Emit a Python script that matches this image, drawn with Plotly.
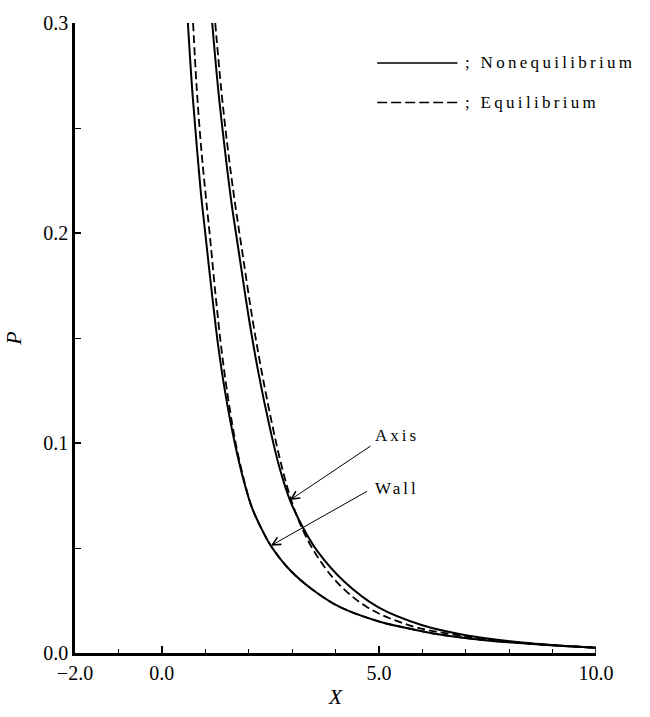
import plotly.graph_objects as go

# Data
wall_noneq_x = [0.60, 0.70, 0.81, 0.90, 1.00, 1.16, 1.30, 1.46, 1.68, 1.90, 2.08, 2.30, 2.51, 2.95, 3.45, 4.11, 5.00, 5.50, 6.40, 7.50, 8.70, 10.0]
wall_noneq_p = [0.300, 0.268, 0.240, 0.219, 0.200, 0.170, 0.146, 0.124, 0.100, 0.0810, 0.0690, 0.0590, 0.0511, 0.0395, 0.0305, 0.0218, 0.0150, 0.0125, 0.0088, 0.0060, 0.0041, 0.0025]

wall_eq_x = [0.72, 0.80, 0.90, 1.00, 1.10, 1.24, 1.36, 1.50, 1.70, 1.91, 2.08, 2.30, 2.51, 2.95, 3.45, 4.11, 5.00, 5.50, 6.40, 7.50, 8.70, 10.0]
wall_eq_p = [0.300, 0.270, 0.242, 0.220, 0.200, 0.170, 0.147, 0.125, 0.100, 0.0810, 0.0690, 0.0590, 0.0511, 0.0395, 0.0305, 0.0218, 0.0150, 0.0125, 0.0088, 0.0060, 0.0041, 0.0025]

axis_noneq_x = [1.16, 1.30, 1.45, 1.60, 1.78, 2.00, 2.22, 2.48, 2.70, 2.95, 3.25, 3.60, 4.20, 4.98, 6.00, 7.00, 8.30, 10.0]
axis_noneq_p = [0.300, 0.268, 0.240, 0.215, 0.190, 0.160, 0.134, 0.108, 0.0890, 0.0728, 0.0598, 0.0480, 0.0340, 0.0218, 0.0132, 0.0085, 0.0050, 0.0025]

axis_eq_x = [1.23, 1.37, 1.52, 1.68, 1.86, 2.08, 2.30, 2.55, 2.76, 2.98, 3.22, 3.52, 4.02, 4.73, 5.70, 6.80, 8.20, 10.0]
axis_eq_p = [0.300, 0.268, 0.240, 0.215, 0.190, 0.160, 0.134, 0.108, 0.0890, 0.0728, 0.0598, 0.0480, 0.0340, 0.0218, 0.0132, 0.0085, 0.0050, 0.0025]

x_tickvals = [-2, 0, 5, 10]
x_ticktext = ["\u22122.0", "0.0", "5.0", "10.0"]
y_tickvals = [0.0, 0.1, 0.2, 0.3]
y_ticktext = ["0.0", "0.1", "0.2", "0.3"]

legend_labels = ["; Nonequilibrium", "; Equilibrium"]
curve_labels = ["Axis", "Wall"]

SERIF = "Liberation Serif, Tinos, Times New Roman, serif"


def spaced(s, px):
    return '<span style="letter-spacing:%spx">%s</span>' % (px, s)


fig = go.Figure()
solid = dict(color="black", width=2)
dashed = dict(color="black", width=1.8, dash="8px,4px")

for xs, ps, st in [(wall_noneq_x, wall_noneq_p, solid), (wall_eq_x, wall_eq_p, dashed),
                   (axis_noneq_x, axis_noneq_p, solid), (axis_eq_x, axis_eq_p, dashed)]:
    fig.add_trace(go.Scatter(x=xs, y=ps, mode="lines",
                             line=dict(**st, shape="spline", smoothing=1.0), showlegend=False))

# closing tick at the right end of the curves
fig.add_shape(type="line", xref="x", yref="y", x0=wall_noneq_x[-1], x1=wall_noneq_x[-1],
              y0=0, y1=wall_noneq_p[-1], line=dict(color="black", width=1.5))

# Legend drawn as shapes + text in paper coords
fig.add_shape(type="line", xref="paper", yref="paper", x0=0.58, x1=0.734, y0=0.9366, y1=0.9366,
              line=dict(color="black", width=1.5))
fig.add_shape(type="line", xref="paper", yref="paper", x0=0.58, x1=0.734, y0=0.874, y1=0.874,
              line=dict(color="black", width=1.5, dash="10px,4px"))
fig.add_annotation(xref="paper", yref="paper", x=0.745, y=0.9366, text=spaced(legend_labels[0], 3.3),
                   showarrow=False, xanchor="left", yanchor="middle",
                   font=dict(family=SERIF, size=17, color="black"))
fig.add_annotation(xref="paper", yref="paper", x=0.745, y=0.874, text=spaced(legend_labels[1], 3.3),
                   showarrow=False, xanchor="left", yanchor="middle",
                   font=dict(family=SERIF, size=17, color="black"))

# Arrow annotations
fig.add_annotation(x=axis_noneq_x[9], y=axis_noneq_p[9], ax=4.84, ay=0.0990, xref="x", yref="y",
                   axref="x", ayref="y", text="", showarrow=True, arrowhead=5, arrowsize=1.6,
                   arrowwidth=1, arrowcolor="black")
fig.add_annotation(x=4.86, y=0.1035, text=spaced(curve_labels[0], 3), showarrow=False, xanchor="left",
                   yanchor="middle", font=dict(family=SERIF, size=17, color="black"))
fig.add_annotation(x=wall_noneq_x[12], y=wall_noneq_p[12], ax=4.76, ay=0.0774, xref="x", yref="y",
                   axref="x", ayref="y", text="", showarrow=True, arrowhead=5, arrowsize=1.6,
                   arrowwidth=1, arrowcolor="black")
fig.add_annotation(x=4.86, y=0.0783, text=spaced(curve_labels[1], 3), showarrow=False, xanchor="left",
                   yanchor="middle", font=dict(family=SERIF, size=17, color="black"))

fig.update_xaxes(range=[-2, 10], tickmode="array", tickvals=x_tickvals, ticktext=x_ticktext,
                 ticks="inside", ticklen=7, tickwidth=1.5, tickcolor="black",
                 minor=dict(dtick=1, tick0=0, ticks="inside", ticklen=4, tickwidth=1.2, tickcolor="black"),
                 showline=True, linecolor="black", linewidth=2.5, showgrid=False, zeroline=False,
                 tickfont=dict(family=SERIF, size=20, color="black"),
                 title=dict(text="X", font=dict(family=SERIF, size=22, color="black", style="italic"), standoff=6))
fig.update_yaxes(range=[0, 0.3], tickmode="array", tickvals=y_tickvals, ticktext=y_ticktext,
                 ticks="inside", ticklen=6, tickwidth=1.5, tickcolor="black",
                 minor=dict(dtick=0.05, tick0=0, ticks="inside", ticklen=6, tickwidth=1.2, tickcolor="black"),
                 showline=True, linecolor="black", linewidth=2.5, showgrid=False, zeroline=False,
                 tickfont=dict(family=SERIF, size=20, color="black"),
                 title=dict(text="P", font=dict(family=SERIF, size=22, color="black", style="italic"), standoff=16))

fig.update_layout(width=650, height=717, margin=dict(l=75, r=54, t=20, b=50),
                  plot_bgcolor="white", paper_bgcolor="white", showlegend=False)

fig.write_html("out.html")
